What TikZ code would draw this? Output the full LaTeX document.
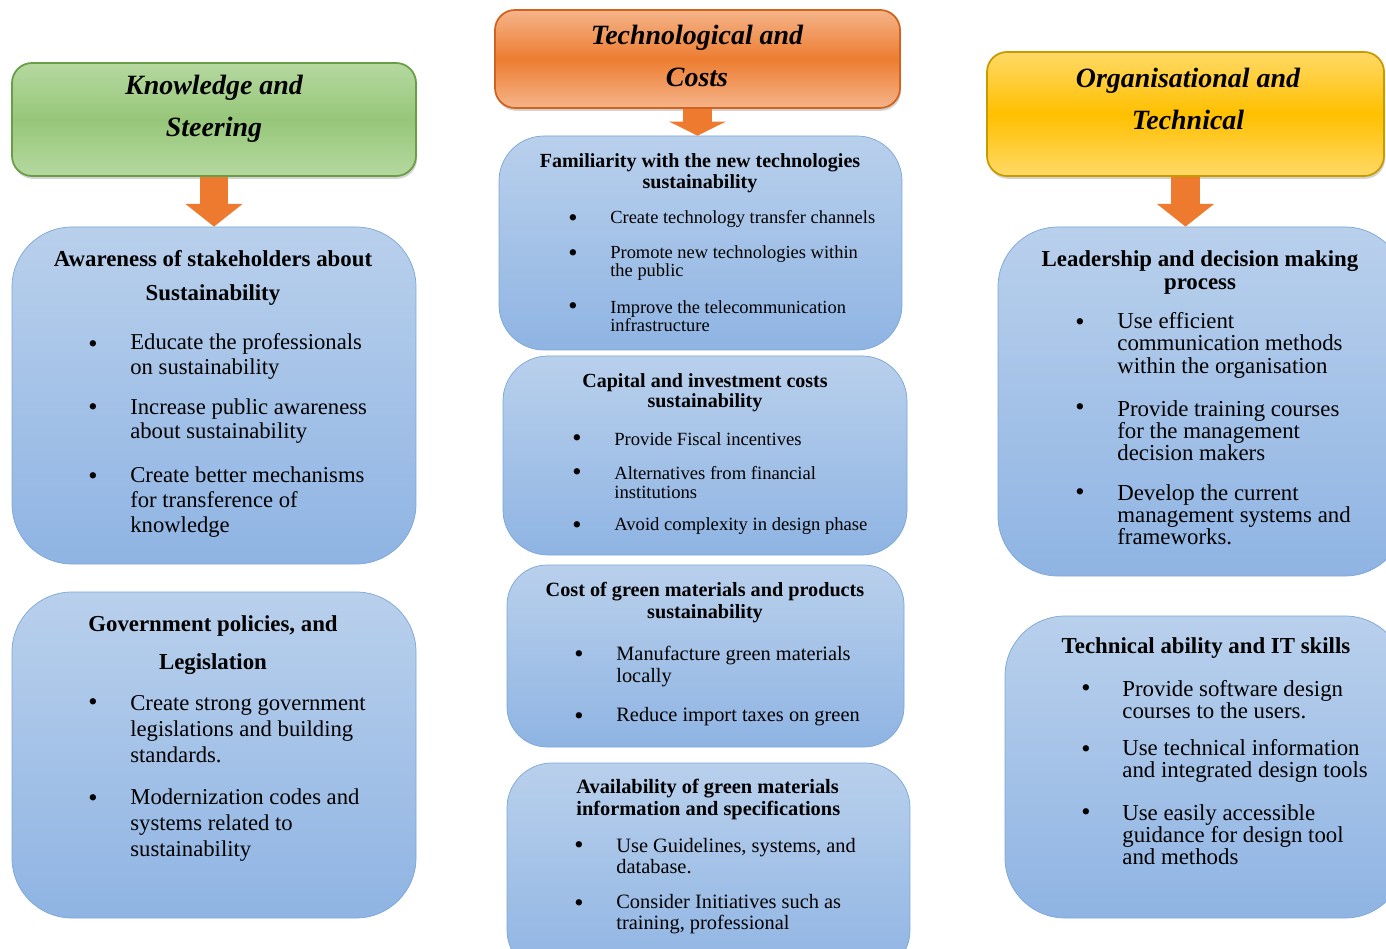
\documentclass[tikz,border=0pt]{standalone}
\usepackage{fontspec}
\setmainfont{Liberation Serif}
\usetikzlibrary{arrows.meta,positioning,calc,fit,shadows}
\definecolor{boxtop}{HTML}{B9D0EC}
\definecolor{boxbot}{HTML}{8FB4E3}
\definecolor{boxline}{HTML}{7AA6D9}
\definecolor{grasslt}{HTML}{B5D8A0}
\definecolor{grass}{HTML}{97C77A}
\definecolor{grassdk}{HTML}{6A9E45}
\definecolor{coraltop}{HTML}{F5B48A}
\definecolor{coral}{HTML}{ED7D31}
\definecolor{coraldk}{HTML}{D0641F}
\definecolor{sunlt}{HTML}{FFD966}
\definecolor{sun}{HTML}{FFC000}
\definecolor{sundk}{HTML}{C99A00}
\definecolor{arrowor}{HTML}{EE7A30}
\newcommand{\bitem}[6]{
  \node[dot] (#1b) at (#2,#4+2) {\textbullet};
  \node[item,anchor=west] (#1) at (#3,#5) {#6};
}

\begin{document}
\begin{tikzpicture}[x=0.02cm,y=-0.02cm,
  bluebox/.style={rounded corners=#1,draw=boxline,top color=boxtop,bottom color=boxbot,inner sep=0pt},
  headbox/.style={rounded corners=0.4cm,line width=1pt,inner sep=0pt,
    drop shadow={opacity=0.35,shadow xshift=0.6pt,shadow yshift=-1.6pt}},
  title/.style={align=center,inner sep=0pt,font=\fontsize{15.9}{24}\selectfont\bfseries\itshape},
  heading/.style={align=center,inner sep=0pt},
  item/.style={align=left,inner sep=0pt},
  dot/.style={inner sep=0pt,font=\fontsize{15}{15}\selectfont},
  bigarrow/.style={draw=arrowor,line width=16pt,-{Triangle[width=32pt,length=#1,fill=arrowor]}}]
  \clip (0,0) rectangle (1386,949);

  % header boxes
  \node[headbox,draw=grassdk,top color=grasslt,bottom color=grasslt,middle color=grass,
    fit={(12,63) (416,176)}] (kn) {};
  \node[headbox,draw=coraldk,top color=coraltop,bottom color=coraltop,middle color=coral,
    fit={(495,10) (900,108)}] (th) {};
  \node[headbox,draw=sundk,top color=sunlt,bottom color=sunlt,middle color=sun,
    fit={(987,52) (1384,176)}] (oh) {};
  \node[title] (knt) at (214,109) {Knowledge and\\Steering};
  \node[title] (tht) at (697,56) {Technological and\\Costs};
  \node[title] (oht) at (1188,99) {Organisational and\\Technical};

  % blue boxes
  \node[bluebox=1.2cm,fit={(12,227) (416,564)}] (aw) {};
  \node[bluebox=1.2cm,fit={(12,592) (416,918)}] (gp) {};
  \node[bluebox=0.9cm,fit={(499,136) (902,350)}] (fa) {};
  \node[bluebox=0.9cm,fit={(503,356) (907,555)}] (ci) {};
  \node[bluebox=0.8cm,fit={(507,565) (904,747)}] (cg) {};
  \node[bluebox=0.9cm,fit={(507,763) (910,975)}] (av) {};
  \node[bluebox=1.2cm,fit={(998,227) (1405,576)}] (ld) {};
  \node[bluebox=1.2cm,fit={(1005,616) (1405,918)}] (ta) {};

  % arrows
  \draw[bigarrow=13pt] (kn.south) -- (aw.north);
  \draw[bigarrow=8pt] (th.south) -- (th.south |- fa.north);
  \draw[bigarrow=13pt] (oh.south) -- (oh.south |- ld.north);

  % left column
  \node[heading,font=\fontsize{13}{19}\selectfont\bfseries] (awh) at (213,278)
    {Awareness of stakeholders about\\Sustainability};
  \begin{scope}[font=\fontsize{12.9}{14}\selectfont]
    \bitem{aw1}{93}{130}{345}{356.5}{Educate the professionals\\on sustainability}
    \bitem{aw2}{93}{130}{408}{421}{Increase public awareness\\about sustainability}
    \bitem{aw3}{93}{130}{477}{502}{Create better mechanisms\\for transference of\\knowledge}
  \end{scope}
  \node[heading,font=\fontsize{13}{21.5}\selectfont\bfseries] (gph) at (213,645)
    {Government policies, and\\Legislation};
  \begin{scope}[font=\fontsize{12.9}{14.7}\selectfont]
    \bitem{gp1}{93}{130}{703}{729}{Create strong government\\legislations and building\\standards.}
    \bitem{gp2}{93}{130}{799}{825}{Modernization codes and\\systems related to\\sustainability}
  \end{scope}

  % middle column
  \node[heading,font=\fontsize{11.4}{12}\selectfont\bfseries] (fah) at (700,173.5)
    {Familiarity with the new technologies\\sustainability};
  \begin{scope}[font=\fontsize{10.5}{10.3}\selectfont]
    \bitem{fa1}{573}{610}{219}{219}{Create technology transfer channels}
    \bitem{fa2}{573}{610}{254}{263}{Promote new technologies within\\the public}
    \bitem{fa3}{573}{610}{307}{316}{Improve the telecommunication\\infrastructure}
  \end{scope}
  \node[heading,font=\fontsize{11.4}{11.3}\selectfont\bfseries] (cih) at (705,393)
    {Capital and investment costs\\sustainability};
  \begin{scope}[font=\fontsize{10.6}{10.8}\selectfont]
    \bitem{ci1}{577}{614}{439}{439}{Provide Fiscal incentives}
    \bitem{ci2}{577}{614}{473}{482.5}{Alternatives from financial\\institutions}
    \bitem{ci3}{577}{614}{526}{526}{Avoid complexity in design phase}
  \end{scope}
  \node[heading,font=\fontsize{11.5}{12.5}\selectfont\bfseries] (cgh) at (705,603)
    {Cost of green materials and products\\sustainability};
  \begin{scope}[font=\fontsize{11.6}{13}\selectfont]
    \bitem{cg1}{579}{616}{655}{666.5}{Manufacture green materials\\locally}
    \bitem{cg2}{579}{616}{717}{717}{Reduce import taxes on green}
  \end{scope}
  \node[heading,align=left,anchor=west,font=\fontsize{11.6}{12}\selectfont\bfseries] (avh) at (576,799.5)
    {Availability of green materials\\information and specifications};
  \begin{scope}[font=\fontsize{11.6}{12}\selectfont]
    \bitem{av1}{579}{616}{846}{856.5}{Use Guidelines, systems, and\\database.}
    \bitem{av2}{579}{616}{904}{914.5}{Consider Initiatives such as\\training, professional}
  \end{scope}

  % right column
  \node[heading,font=\fontsize{13}{13}\selectfont\bfseries] (ldh) at (1200,272.5)
    {Leadership and decision making\\process};
  \begin{scope}[font=\fontsize{13}{12.6}\selectfont]
    \bitem{ld1}{1080}{1117}{323}{345.3}{Use efficient\\communication methods\\within the organisation}
    \bitem{ld2}{1080}{1117}{408}{430.7}{Provide training courses\\for the management\\decision makers}
    \bitem{ld3}{1080}{1117}{493}{515}{Develop the current\\management systems and\\frameworks.}
  \end{scope}
  \node[heading,font=\fontsize{13}{13}\selectfont\bfseries] (tah) at (1206,648)
    {Technical ability and IT skills};
  \begin{scope}[font=\fontsize{13}{12.6}\selectfont]
    \bitem{ta1}{1086}{1122}{689}{700}{Provide software design\\courses to the users.}
    \bitem{ta2}{1086}{1122}{750}{761}{Use technical information\\and integrated design tools}
    \bitem{ta3}{1086}{1122}{813}{835}{Use easily accessible\\guidance for design tool\\and methods}
  \end{scope}
\end{tikzpicture}
\end{document}
